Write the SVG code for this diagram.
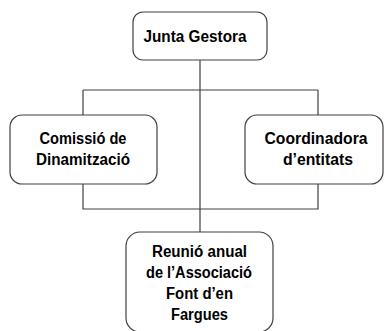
<svg xmlns="http://www.w3.org/2000/svg" width="385" height="331" viewBox="0 0 385 331">
<style>
.box{fill:#fff;stroke:#404040;stroke-width:1.2}
.conn{fill:none;stroke:#404040;stroke-width:1.2}
text{font-family:"Liberation Sans",Arial,sans-serif;font-weight:bold;font-size:16px;fill:#000;text-anchor:middle}
</style>
<rect width="385" height="331" fill="#fff"/>
<g id="connectors">
<path class="conn" d="M200 60V232M83 90H318M83 90V115M318 90V115M83 184V209H318V184"/>
</g>
<g id="junta">
<rect class="box" x="133" y="12" width="134" height="48" rx="10"/>
<text x="195" y="42" textLength="103" lengthAdjust="spacingAndGlyphs">Junta Gestora</text>
</g>
<g id="comissio">
<rect class="box" x="10" y="115" width="147" height="69" rx="12"/>
<text x="83" y="144" textLength="87" lengthAdjust="spacingAndGlyphs">Comissió de</text>
<text x="83" y="165" textLength="94" lengthAdjust="spacingAndGlyphs">Dinamització</text>
</g>
<g id="coordinadora">
<rect class="box" x="245" y="115" width="138" height="69" rx="12"/>
<text x="316" y="144" textLength="103" lengthAdjust="spacingAndGlyphs">Coordinadora</text>
<text x="318" y="165" textLength="70" lengthAdjust="spacingAndGlyphs">d’entitats</text>
</g>
<g id="reunio">
<rect class="box" x="126" y="232" width="147" height="100" rx="14"/>
<text x="199.5" y="257" textLength="95" lengthAdjust="spacingAndGlyphs">Reunió anual</text>
<text x="199" y="278" textLength="106" lengthAdjust="spacingAndGlyphs">de l’Associació</text>
<text x="199.5" y="299" textLength="67" lengthAdjust="spacingAndGlyphs">Font d’en</text>
<text x="199.5" y="320" textLength="57" lengthAdjust="spacingAndGlyphs">Fargues</text>
</g>
</svg>
